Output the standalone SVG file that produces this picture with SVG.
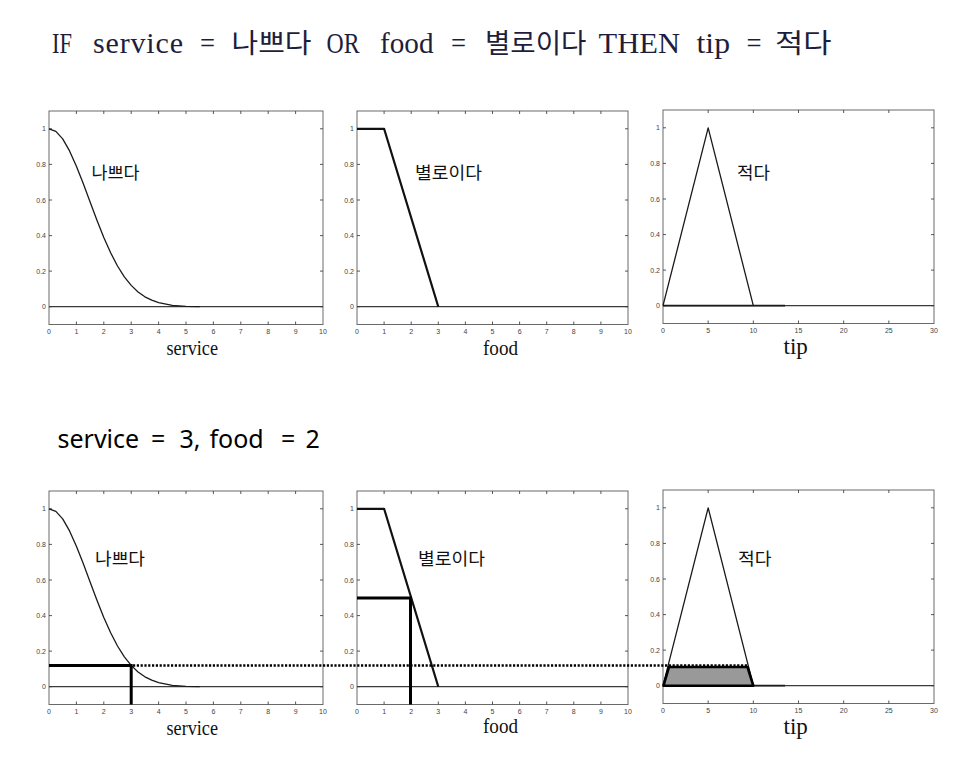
<svg xmlns="http://www.w3.org/2000/svg" xmlns:xlink="http://www.w3.org/1999/xlink" width="978" height="768" viewBox="0 0 978 768">
<style>
.bg{fill:#ffffff}
.box{fill:#ffffff;stroke:#6a6a6a;stroke-width:1}
.tk{fill:none;stroke:#444;stroke-width:0.9}
.tl{font-family:"Liberation Sans",Arial,sans-serif;font-size:7px;fill:#444}
.xl{text-anchor:middle}
.yl{text-anchor:end}
.base{fill:none;stroke:#3a3a3a;stroke-width:1.2}
.curve{fill:none;stroke:#1a1a1a;stroke-width:1.3;stroke-linejoin:round}
.thick{fill:none;stroke:#111;stroke-width:2.2;stroke-linejoin:round}
.cut{fill:none;stroke:#000;stroke-width:3}
.area{fill:#999999;stroke:#000;stroke-width:2.6;stroke-linejoin:round}
.dot{fill:none;stroke:#000;stroke-width:2.6;stroke-dasharray:2.2 1.6}
.ttl{font-family:"Liberation Serif","Times New Roman",serif;font-size:30px;fill:#1e1e3c}
.ttk{font-family:"Noto Sans CJK KR",sans-serif;font-size:27px;fill:#1e1e3c}
.sub{font-family:"Noto Sans","Noto Sans CJK KR",sans-serif;font-size:25px;fill:#000}
.lab{font-family:"Noto Sans CJK KR",sans-serif;font-size:17px;fill:#111}
.axl{font-family:"Liberation Serif","Times New Roman",serif;font-size:20px;fill:#111}
.axt{font-family:"Liberation Serif","Times New Roman",serif;font-size:23px;fill:#111}
</style>
<defs>
<g id="yax">
<path class="tk" d="M0 195.7h3M0 160.1h3M0 124.6h3M0 89h3M0 53.4h3M0 17.8h3"/>
<g class="tl yl">
<text x="-3" y="198.2">0</text>
<text x="-3" y="162.6">0.2</text>
<text x="-3" y="127.1">0.4</text>
<text x="-3" y="91.5">0.6</text>
<text x="-3" y="55.9">0.8</text>
<text x="-3" y="20.3">1</text>
</g>
</g>
<g id="ax274">
<rect class="box" x="0" y="0" width="274" height="213.5"/>
<use xlink:href="#yax"/>
<path class="tk" d="M27.4 213.5v-3M54.8 213.5v-3M82.2 213.5v-3M109.6 213.5v-3M137 213.5v-3M164.4 213.5v-3M191.8 213.5v-3M219.2 213.5v-3M246.6 213.5v-3M27.4 0v3M54.8 0v3M82.2 0v3M109.6 0v3M137 0v3M164.4 0v3M191.8 0v3M219.2 0v3M246.6 0v3M274 195.7h-3M274 160.1h-3M274 124.6h-3M274 89h-3M274 53.4h-3M274 17.8h-3"/>
<g class="tl xl">
<text x="0" y="223">0</text><text x="27.4" y="223">1</text><text x="54.8" y="223">2</text><text x="82.2" y="223">3</text><text x="109.6" y="223">4</text><text x="137" y="223">5</text><text x="164.4" y="223">6</text><text x="191.8" y="223">7</text><text x="219.2" y="223">8</text><text x="246.6" y="223">9</text><text x="274" y="223">10</text>
</g>
</g>
<g id="ax271">
<rect class="box" x="0" y="0" width="271" height="213.5"/>
<use xlink:href="#yax"/>
<path class="tk" d="M27.1 213.5v-3M54.2 213.5v-3M81.3 213.5v-3M108.4 213.5v-3M135.5 213.5v-3M162.6 213.5v-3M189.7 213.5v-3M216.8 213.5v-3M243.9 213.5v-3M27.1 0v3M54.2 0v3M81.3 0v3M108.4 0v3M135.5 0v3M162.6 0v3M189.7 0v3M216.8 0v3M243.9 0v3M271 195.7h-3M271 160.1h-3M271 124.6h-3M271 89h-3M271 53.4h-3M271 17.8h-3"/>
<g class="tl xl">
<text x="0" y="223">0</text><text x="27.1" y="223">1</text><text x="54.2" y="223">2</text><text x="81.3" y="223">3</text><text x="108.4" y="223">4</text><text x="135.5" y="223">5</text><text x="162.6" y="223">6</text><text x="189.7" y="223">7</text><text x="216.8" y="223">8</text><text x="243.9" y="223">9</text><text x="271" y="223">10</text>
</g>
</g>
<g id="ax30">
<rect class="box" x="0" y="0" width="271" height="213.5"/>
<use xlink:href="#yax"/>
<path class="tk" d="M45.17 213.5v-3M90.33 213.5v-3M135.5 213.5v-3M180.67 213.5v-3M225.83 213.5v-3M45.17 0v3M90.33 0v3M135.5 0v3M180.67 0v3M225.83 0v3M271 195.7h-3M271 160.1h-3M271 124.6h-3M271 89h-3M271 53.4h-3M271 17.8h-3"/>
<g class="tl xl">
<text x="0" y="223">0</text><text x="45.17" y="223">5</text><text x="90.33" y="223">10</text><text x="135.5" y="223">15</text><text x="180.67" y="223">20</text><text x="225.83" y="223">25</text><text x="271" y="223">30</text>
</g>
</g>
<path id="gauss" d="M0 17.8L6.85 20.4L13.7 27.9L20.55 39.9L27.4 55.2L34.25 72.6L41.1 91.1L47.95 109.3L54.8 126.5L61.65 141.8L68.5 155L75.35 165.8L82.2 174.4L89.05 181L95.9 185.8L102.75 189.2L109.6 191.6L123.3 194.3L137 195.4L150.7 195.7"/>
<path id="trap" d="M0 17.8H27.1L81.3 195.7"/>
<path id="tri" d="M0 195.7L45.17 17.8L90.33 195.7"/>
</defs>
<rect class="bg" x="0" y="0" width="978" height="768"/>

<g id="title">
<text class="ttl" x="52" y="53.3" textLength="20" lengthAdjust="spacingAndGlyphs">IF</text>
<text class="ttl" x="93" y="53.3" textLength="90" lengthAdjust="spacing">service</text>
<text class="ttl" x="200" y="53.3" textLength="15" lengthAdjust="spacingAndGlyphs">=</text>
<text class="ttk" x="231.5" y="53.3" textLength="80" lengthAdjust="spacingAndGlyphs">나쁘다</text>
<text class="ttl" x="326.5" y="53.3" textLength="33" lengthAdjust="spacingAndGlyphs">OR</text>
<text class="ttl" x="380" y="53.3" textLength="53.5" lengthAdjust="spacingAndGlyphs">food</text>
<text class="ttl" x="451" y="53.3" textLength="15" lengthAdjust="spacingAndGlyphs">=</text>
<text class="ttk" x="485" y="53.3" textLength="101.5" lengthAdjust="spacingAndGlyphs">별로이다</text>
<text class="ttl" x="598.5" y="53.3" textLength="81.5" lengthAdjust="spacingAndGlyphs">THEN</text>
<text class="ttl" x="696.5" y="53.3" textLength="33.5" lengthAdjust="spacingAndGlyphs">tip</text>
<text class="ttl" x="746.5" y="53.3" textLength="15" lengthAdjust="spacingAndGlyphs">=</text>
<text class="ttk" x="775" y="53.3" textLength="56.5" lengthAdjust="spacingAndGlyphs">적다</text>
</g>

<g id="subtitle">
<text class="sub" y="448"><tspan x="57.5">service</tspan><tspan x="151">=</tspan><tspan x="179.5">3,</tspan><tspan x="209.5">food</tspan><tspan x="281">=</tspan><tspan x="305.5">2</tspan></text>
</g>

<g id="plot-service-top" transform="translate(49,111)">
<use xlink:href="#ax274"/>
<path class="base" d="M0 195.7H274"/>
<use xlink:href="#gauss" class="curve"/>
<text class="lab" x="42.5" y="67.5" textLength="48" lengthAdjust="spacingAndGlyphs">나쁘다</text>
<text class="axl" x="117.5" y="244" textLength="51.5" lengthAdjust="spacingAndGlyphs">service</text>
</g>

<g id="plot-food-top" transform="translate(357,111)">
<use xlink:href="#ax271"/>
<path class="base" d="M0 195.7H271"/>
<use xlink:href="#trap" class="thick"/>
<text class="lab" x="58" y="67.5" textLength="67" lengthAdjust="spacingAndGlyphs">별로이다</text>
<text class="axl" x="126" y="243.5" textLength="35" lengthAdjust="spacingAndGlyphs">food</text>
</g>

<g id="plot-tip-top" transform="translate(663,110)">
<use xlink:href="#ax30"/>
<path class="base" d="M0 195.7H271"/>
<path class="curve" d="M0 195.7H122" style="stroke-width:1.8"/>
<use xlink:href="#tri" class="curve"/>
<text class="lab" x="74" y="68.5" textLength="33" lengthAdjust="spacingAndGlyphs">적다</text>
<text class="axt" x="120.5" y="243.5">tip</text>
</g>

<g id="plot-service-bottom" transform="translate(49,491)">
<use xlink:href="#ax274"/>
<path class="base" d="M0 195.7H274"/>
<use xlink:href="#gauss" class="curve"/>
<path class="cut" d="M0 174.4H82.2V213.5"/>
<text class="lab" x="46" y="73.5" textLength="50" lengthAdjust="spacingAndGlyphs">나쁘다</text>
<text class="axl" x="117.5" y="244" textLength="51.5" lengthAdjust="spacingAndGlyphs">service</text>
</g>

<g id="plot-food-bottom" transform="translate(357,491)">
<use xlink:href="#ax271"/>
<path class="base" d="M0 195.7H271"/>
<use xlink:href="#trap" class="thick"/>
<path class="cut" d="M0 107H53.5V213.5"/>
<text class="lab" x="61" y="73.5" textLength="67" lengthAdjust="spacingAndGlyphs">별로이다</text>
<text class="axl" x="126" y="242" textLength="35" lengthAdjust="spacingAndGlyphs">food</text>
</g>

<g id="plot-tip-bottom" transform="translate(663,490)">
<use xlink:href="#ax30"/>
<path class="base" d="M0 195.7H271"/>
<path class="curve" d="M0 195.7H122" style="stroke-width:1.8"/>
<use xlink:href="#tri" class="curve"/>
<path class="area" d="M0.5 195.7L6 177H84.5L90.3 195.7Z"/>
<text class="lab" x="75" y="74.5" textLength="33.5" lengthAdjust="spacingAndGlyphs">적다</text>
<text class="axt" x="120.5" y="243.5">tip</text>
</g>

<g id="connectors">
<path class="dot" d="M133 665.5H748"/>
</g>
</svg>
